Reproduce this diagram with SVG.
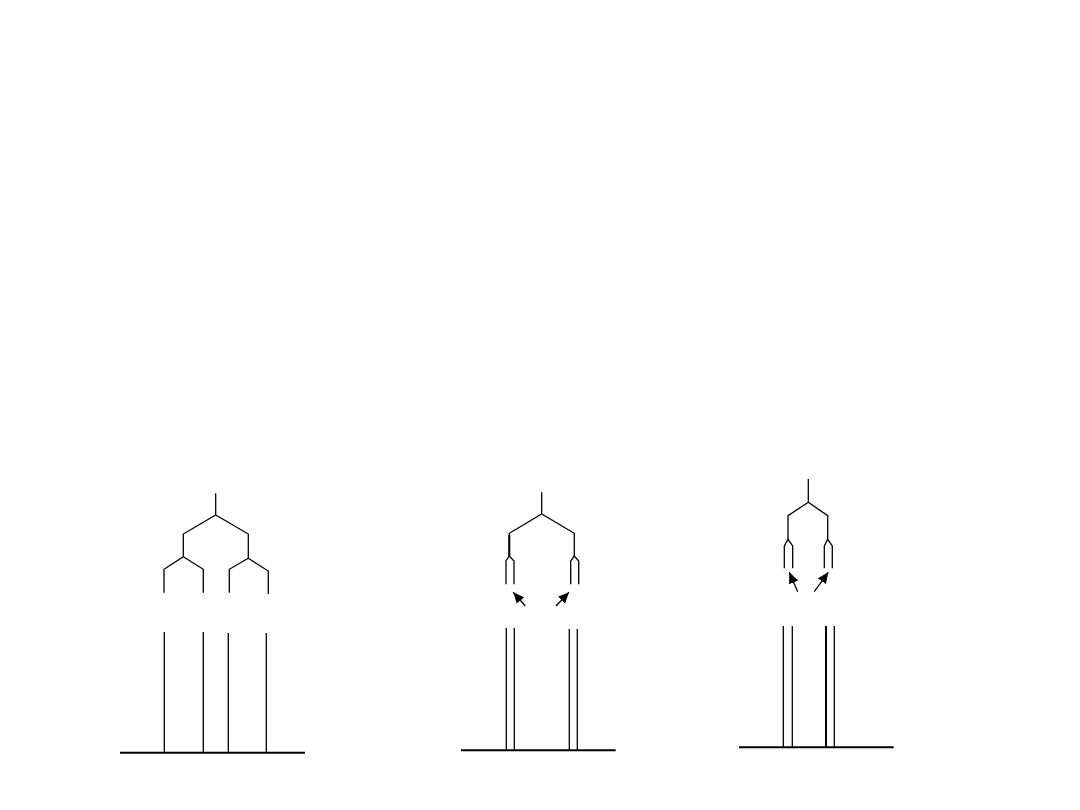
<svg xmlns="http://www.w3.org/2000/svg" width="1080" height="810" viewBox="0 0 1080 810">
<defs>
<style>
.l{fill:none;stroke:#000;stroke-width:1.3;stroke-linejoin:miter;stroke-linecap:butt}
.b{fill:none;stroke:#000;stroke-width:2}
.a{fill:none;stroke:#000;stroke-width:1.3}
</style>
<marker id="ah" markerUnits="userSpaceOnUse" markerWidth="12" markerHeight="10" refX="11" refY="5" orient="auto">
<path d="M0,0 L11,5 L0,10 Z" fill="#000"/>
</marker>
</defs>
<rect width="1080" height="810" fill="#fff"/>
<g id="panel1">
<path class="l" d="M215.7,493.3 V515 M183.3,556.7 V534 L215.7,515 L248.3,534 V558.3"/>
<path class="l" d="M164,592.7 V569.3 L183.3,556.7 L203.3,569.3 V592.7"/>
<path class="l" d="M229.3,592.7 V569.3 L248.3,558.3 L268.3,571 V594"/>
<path class="l" d="M164.3,632 V752 M203.3,632 V752 M228.3,633 V752 M266.3,633 V752"/>
<path class="b" d="M120,752.7 H305" stroke-width="2.2"/>
</g>
<g id="panel2">
<path class="l" d="M541.7,492.3 V514 M509.3,556 V533.3 L541.7,514 L574.3,533.3 V556"/>
<path class="b" d="M509.3,535 V556"/>
<path class="l" d="M506,584.3 V561 L509.3,556 L514,561 V584.3"/>
<path class="l" d="M570.7,584.3 V561 L574.3,556 L578.7,561 V584.3"/>
<path class="l" d="M506.3,627.7 V750 M514.3,627.7 V750 M569.3,629 V750 M577.3,629 V750"/>
<path class="b" d="M461,750.3 H615.7"/>
</g>
<g id="panel3">
<path class="l" d="M808.3,479 V502.3 M788,539.3 V515.7 L808.3,502.3 L827.7,515.7 V539.3"/>
<path class="l" d="M784.3,568.3 V546 L788,539.3 L792.7,546 V568.3"/>
<path class="l" d="M824.3,568.3 V546 L827.7,539.3 L832.3,546 V568.3"/>
<path class="l" d="M783.3,626 V747 M792.3,626 V747 M834.3,626 V747"/>
<path class="b" d="M826,626 V747" stroke-width="2.6"/>
<path class="b" d="M739,747.3 H893.7"/>
</g>
<g id="connectors">
<line class="a" x1="525.3" y1="606" x2="513.3" y2="592.3" marker-end="url(#ah)"/>
<line class="a" x1="556" y1="606" x2="569" y2="592.3" marker-end="url(#ah)"/>
<line class="a" x1="797.7" y1="591.7" x2="789.3" y2="572.3" marker-end="url(#ah)"/>
<line class="a" x1="814.3" y1="591.7" x2="828.3" y2="572.3" marker-end="url(#ah)"/>
</g>
</svg>
